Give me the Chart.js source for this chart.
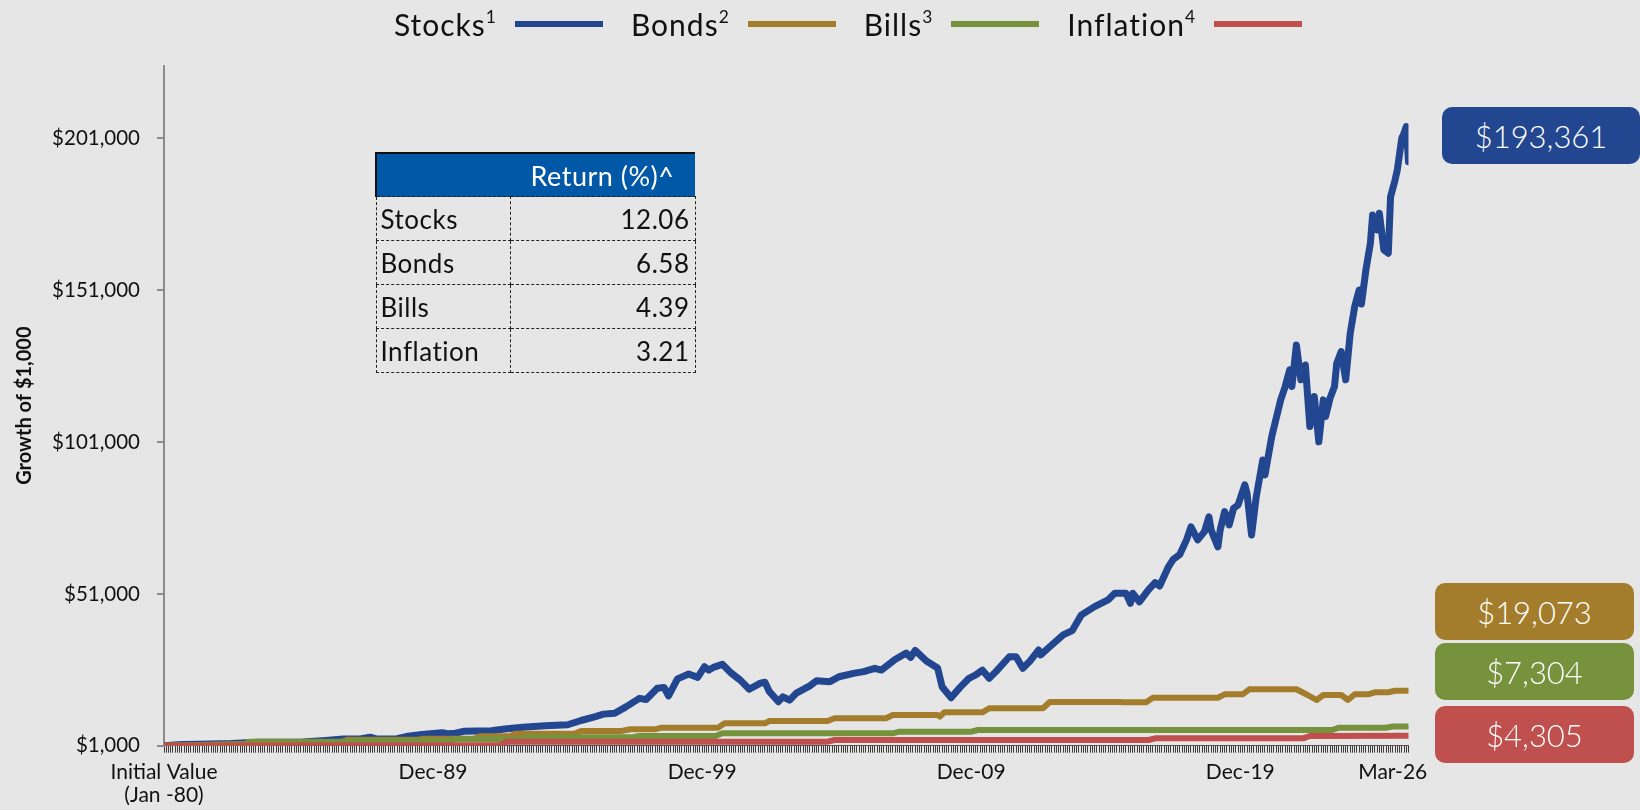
<!DOCTYPE html>
<html>
<head>
<meta charset="utf-8">
<title>Growth of $1,000</title>
<script src="https://cdn.jsdelivr.net/npm/chart.js@4.4.1/dist/chart.umd.min.js"></script>
<style>
  body { margin: 0; background: #e6e6e6; font-family: Lato, sans-serif; }
  #wrap { position: relative; width: 1640px; height: 810px; overflow: hidden; }
  #chart { position: absolute; left: 0; top: 0; }
  #legend { position: absolute; left: 394px; top: 4px; width: 908px; height: 40px;
            display: flex; justify-content: space-between; align-items: center;
            font-size: 30px; letter-spacing: 1px; color: #111; }
  .item { display: flex; align-items: center; }
  .item sup { font-size: 58%; line-height: 0; vertical-align: 0.75em; }
  .swatch { display: inline-block; width: 88px; height: 6px; margin-left: 18px; }
  #returns { position: absolute; left: 375px; top: 152px; border-collapse: collapse;
             font-size: 26px; letter-spacing: 0.5px; color: #111; }
  #returns th { background: #0058a6; color: #fff; font-weight: normal; font-size: 27px;
                height: 42px; padding: 0; border-top: 2px solid #111; }
  #returns th:first-child { border-left: 2px solid #111; width: 133px; }
  #returns th:last-child { width: 185px; }
  #returns td { border: 1px dashed #222; height: 43px; padding: 0 5px 0 4px; }
  #returns td.num { text-align: right; }
  .vbox { position: absolute; height: 57px; border-radius: 10px; color: #fff;
          font-size: 31px; font-weight: 300; display: flex; align-items: center; justify-content: center; }
</style>
</head>
<body>
<div id="wrap">
  <canvas id="chart" width="1640" height="810"></canvas>
  <div id="legend"></div>
  <table id="returns"></table>
  <div id="boxes"></div>
</div>
<script>
// month index: 0 = initial value (Jan-80), 555 = Mar-26
const stockMonths = [
  0, 8, 16, 30, 42, 56, 62, 72, 80, 88,
  92, 95, 104, 108, 115, 124, 127, 130, 134, 146,
  152, 160, 170, 180, 186, 192, 196, 201, 206, 212,
  215, 220, 223, 225, 229, 234, 238, 241, 243, 245,
  249, 253, 257, 261, 266, 268, 270, 274, 276, 279,
  282, 288, 291, 297, 301, 308, 312, 317, 320, 326,
  331, 333, 335, 340, 345, 347, 351, 355, 359, 362,
  365, 368, 371, 377, 380, 383, 386, 390, 391, 395,
  401, 405, 409, 415, 421, 424, 429, 431, 432, 435,
  439, 442, 444, 448, 450, 453, 456, 458, 461, 464,
  466, 467, 470, 471, 473, 475, 477, 479, 482, 483,
  485, 487, 490, 491, 494, 498, 500, 502, 503, 505,
  507, 509, 511, 513, 515, 517, 518, 520, 522, 523,
  525, 527, 529, 531, 533, 534, 536, 538, 539, 541,
  542, 544, 546, 547, 549, 550, 552, 553, 554, 555
];
const stockValues = [
  1000, 1400, 1500, 1700, 2100, 2150, 2200, 2700, 3200, 3300,
  3800, 3200, 3300, 4000, 4700, 5300, 4900, 5100, 5800, 5900,
  6500, 7100, 7600, 7900, 9300, 10500, 11400, 11700, 13800, 16600,
  16200, 19900, 20200, 17400, 23000, 24600, 23500, 27000, 25900, 26800,
  27800, 24900, 22600, 19600, 21600, 21900, 18800, 15500, 17100, 16000,
  18300, 20700, 22400, 22100, 23700, 24900, 25400, 26500, 25900, 29400,
  31500, 30100, 32400, 28900, 26600, 20400, 16800, 20200, 23200, 24300,
  25900, 23200, 25400, 30300, 30300, 26500, 28700, 32500, 30900, 33600,
  37500, 38900, 44000, 46800, 49000, 51200, 51200, 47900, 51200, 48400,
  52300, 54700, 53600, 60000, 62300, 64000, 68800, 73100, 68800, 71500,
  76400, 72000, 66500, 72000, 78100, 73700, 79200, 80300, 86900, 84000,
  70400, 82500, 95100, 90200, 102800, 114900, 119300, 124800, 119300, 133000,
  121500, 126400, 106100, 116000, 101100, 114900, 109400, 115400, 119300, 127000,
  130800, 121500, 136800, 145600, 151100, 146500, 157700, 166500, 175800, 170900,
  176400, 164300, 163200, 181800, 187300, 190600, 201100, 202700, 204900, 193361
];

const bondMonths = [
  0, 30, 58, 62, 79, 82, 113, 116, 138, 141,
  154, 157, 183, 186, 204, 208, 219, 222, 247, 250,
  268, 270, 296, 299, 322, 325, 345, 346, 348, 365,
  368, 392, 395, 426, 428, 438, 441, 470, 473, 481,
  484, 505, 510, 514, 517, 525, 528, 531, 537, 540,
  546, 549, 555
];
const bondValues = [
  1000, 1500, 2000, 2200, 2200, 2980, 2980, 3300, 3300, 4100,
  4100, 4900, 4900, 5840, 5840, 6400, 6400, 6930, 6930, 8380,
  8380, 9140, 9140, 10020, 10020, 11110, 11110, 10600, 12000, 12000,
  13320, 13320, 15400, 15400, 15300, 15300, 16800, 16800, 17930, 17930,
  19580, 19580, 17700, 16050, 17700, 17700, 16050, 17930, 17930, 18590,
  18590, 19100, 19073
];

const billMonths = [0, 36, 38, 82, 84, 127, 130, 158, 161, 209, 212, 246, 249, 325, 328, 360, 363, 521, 524, 545, 548, 555];
const billValues = [1000, 1400, 2300, 2300, 2700, 2700, 3100, 3100, 3770, 3770, 4200, 4200, 5080, 5080, 5610, 5610, 6170, 6170, 6930, 6930, 7304, 7304];

const inflMonths = [0, 150, 153, 296, 299, 439, 442, 508, 511, 555];
const inflValues = [1000, 1200, 2320, 2320, 2880, 2880, 3440, 3440, 4200, 4305];

const tickMonths = [0, 120, 240, 360, 480, 555];
// the last label sits a little left of the final month, as in the original
const tickLabels = [['Initial Value', '(Jan -80)'], 'Dec-89', 'Dec-99', 'Dec-09', 'Dec-19', 'Mar-26\u2002\u2002\u2002'];
const yTicks = [1000, 51000, 101000, 151000, 201000];

const seriesNames = ['Stocks', 'Bonds', 'Bills', 'Inflation'];
const seriesNotes = ['1', '2', '3', '4'];
const seriesColors = ['#22468f', '#a47d2c', '#76923c', '#c0504d'];
const finalValues = [193361, 19073, 7304, 4305];
const returnValues = ['12.06', '6.58', '4.39', '3.21'];

function toPoints(months, values) {
  return months.map((m, i) => ({x: m, y: values[i]}));
}
function money(v) {
  return '$' + v.toLocaleString('en-US');
}

const seriesData = [
  toPoints(stockMonths, stockValues),
  toPoints(bondMonths, bondValues),
  toPoints(billMonths, billValues),
  toPoints(inflMonths, inflValues)
];

Chart.defaults.font.family = 'Lato';

new Chart(document.getElementById('chart'), {
  type: 'line',
  data: {
    datasets: seriesNames.map((name, i) => ({
      label: name,
      data: seriesData[i],
      borderColor: seriesColors[i],
      backgroundColor: seriesColors[i],
      borderWidth: i === 0 ? 7 : 6,
      order: 4 - i
    }))
  },
  options: {
    responsive: false,
    animation: false,
    layout: {padding: {top: 65.6, right: 231.5, bottom: 0, left: 0}},
    elements: {
      point: {radius: 0},
      line: {tension: 0, borderJoinStyle: 'round', borderCapStyle: 'round'}
    },
    plugins: {legend: {display: false}, tooltip: {enabled: false}},
    scales: {
      x: {
        type: 'linear', min: 0, max: 555,
        afterBuildTicks: s => { s.ticks = Array.from({length: 556}, (_, i) => ({value: i})); },
        afterFit: s => { s.height = 64.3; },
        grid: {display: true, drawOnChartArea: false, drawTicks: true, tickLength: 7, color: '#3c3c3c', lineWidth: 1},
        border: {display: true, color: '#555', width: 1},
        ticks: {
          autoSkip: false, maxRotation: 0, minRotation: 0, padding: 9, color: '#111',
          font: {size: 21, lineHeight: 1.05},
          callback: v => { const k = tickMonths.indexOf(v); return k < 0 ? '' : tickLabels[k]; }
        }
      },
      y: {
        min: 1000, max: 225000,
        afterBuildTicks: s => { s.ticks = yTicks.map(v => ({value: v})); },
        afterFit: s => { s.width = 164; },
        grid: {drawOnChartArea: false, tickLength: 7, color: '#8c8c8c', lineWidth: 2},
        border: {color: '#8c8c8c', width: 2},
        ticks: {padding: 17, color: '#111', font: {size: 20.5}, callback: v => money(v)},
        title: {display: true, text: 'Growth of $1,000', color: '#111',
                font: {size: 20, weight: 'bold'}, padding: {top: 13, bottom: 0}}
      }
    }
  }
});

// legend
const legend = document.getElementById('legend');
seriesNames.forEach((n, i) => {
  legend.insertAdjacentHTML('beforeend',
    `<span class="item"><span>${n}<sup>${seriesNotes[i]}</sup></span>` +
    `<span class="swatch" style="background:${seriesColors[i]}"></span></span>`);
});

// return table
let rows = '<tr><th></th><th>Return (%)^</th></tr>';
seriesNames.forEach((n, i) => {
  rows += `<tr><td>${n}</td><td class="num">${returnValues[i]}</td></tr>`;
});
document.getElementById('returns').innerHTML = rows;

// ending value boxes
const boxSpots = [[1442, 107, 198], [1435, 583, 199], [1435, 643, 199], [1435, 706, 199]];
const boxes = document.getElementById('boxes');
finalValues.forEach((v, i) => {
  const [l, t, w] = boxSpots[i];
  boxes.insertAdjacentHTML('beforeend',
    `<div class="vbox" style="left:${l}px;top:${t}px;width:${w}px;background:${seriesColors[i]}">${money(v)}</div>`);
});
</script>
</body>
</html>
